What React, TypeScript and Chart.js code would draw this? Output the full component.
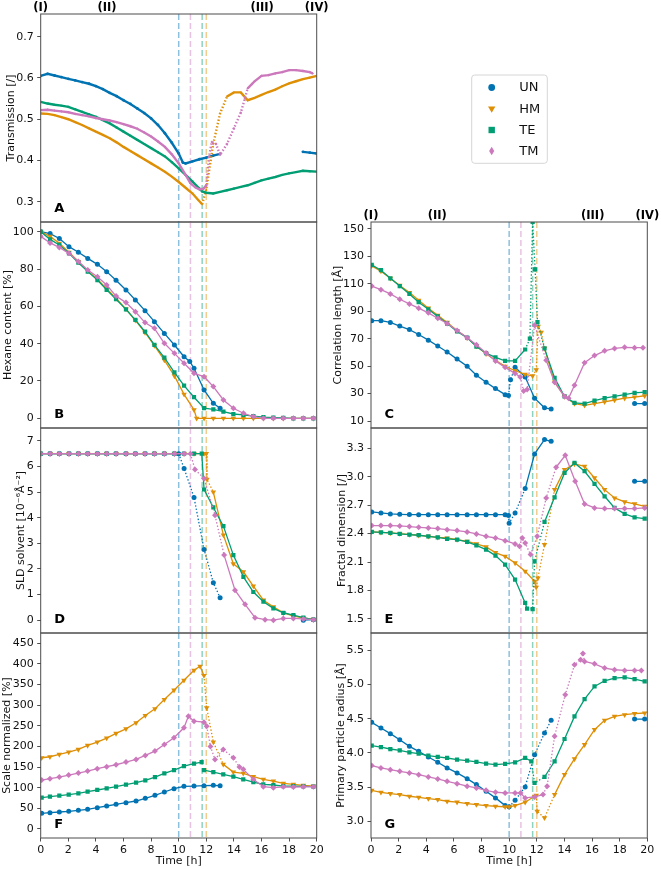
import React, { useEffect, useRef } from "react";
import { Chart, registerables } from "chart.js";

Chart.register(...registerables);

type P = [number, number | null];

const FONT = "'DejaVu Sans', 'Liberation Sans', sans-serif";

const SERIES_NAMES = ["UN", "HM", "TE", "TM"];
const SERIES_COLORS = ["#0173B2", "#DE8F05", "#029E73", "#CC78BC"];
const SERIES_RGB = ["1,115,178", "222,143,5", "2,158,115", "204,120,188"];
const SERIES_MARKERS = ["circle", "triangle", "rect", "rectRot"];
const SERIES_ROTATION = [0, 180, 0, 0];
const SERIES_RADIUS = [2.5, 3.2, 3.0, 3.0];

// switching time of each sample (dashed verticals): UN, HM, TE, TM
const SWITCH_TIMES = [10.0, 12.0, 11.7, 10.85];

const X_TICKS = [0, 2, 4, 6, 8, 10, 12, 14, 16, 18, 20];
const PHASE_LABELS = ["(I)", "(II)", "(III)", "(IV)"];
const PHASE_TIMES = [0, 4.8, 16.05, 20];

const A_TICKS = [0.3, 0.4, 0.5, 0.6, 0.7];
const B_TICKS = [0, 20, 40, 60, 80, 100];
const C_TICKS = [10, 30, 50, 70, 90, 110, 130, 150];
const D_TICKS = [0, 1, 2, 3, 4, 5, 6, 7];
const E_TICKS = [1.5, 1.8, 2.1, 2.4, 2.7, 3.0, 3.3];
const F_TICKS = [0, 50, 100, 150, 200, 250, 300, 350, 400, 450];
const G_TICKS = [3.0, 3.5, 4.0, 4.5, 5.0, 5.5];

// ---------- A: Transmission ----------
const A_UN: P[] = [[0,0.605],[0.5,0.61],[1,0.606],[1.5,0.602],[2,0.598],[2.5,0.594],[3,0.59],[3.5,0.586],[4,0.58],[4.5,0.573],[5,0.564],[5.5,0.556],[6,0.546],[6.5,0.537],[7,0.526],[7.5,0.515],[8,0.502],[8.5,0.486],[9,0.466],[9.5,0.443],[10,0.417],[10.3,0.395],[10.5,0.393],[11,0.398],[11.5,0.403],[12,0.407],[12.5,0.412],[13,0.416],[16,null],[19,0.421],[19.5,0.419],[20,0.417]];
const A_HM: P[] = [[0,0.514],[0.5,0.513],[1,0.51],[1.5,0.505],[2,0.5],[2.5,0.493],[3,0.486],[3.5,0.478],[4,0.47],[4.5,0.462],[5,0.454],[5.5,0.444],[6,0.433],[6.5,0.423],[7,0.413],[7.5,0.403],[8,0.393],[8.5,0.383],[9,0.373],[9.5,0.361],[10,0.348],[10.5,0.334],[11,0.32],[11.4,0.305],[11.7,0.294],[12,0.33],[12.5,0.44],[13,0.514],[13.5,0.555],[14,0.565],[14.5,0.565],[15,0.546],[15.5,0.552],[16,0.559],[16.5,0.566],[17,0.572],[17.5,0.58],[18,0.587],[18.5,0.592],[19,0.597],[19.5,0.601],[20,0.605]];
const A_TE: P[] = [[0,0.542],[0.5,0.538],[1,0.535],[1.5,0.533],[2,0.53],[2.5,0.524],[3,0.518],[3.5,0.512],[4,0.506],[4.5,0.498],[5,0.49],[5.5,0.48],[6,0.47],[6.5,0.46],[7,0.45],[7.5,0.44],[8,0.43],[8.5,0.42],[9,0.41],[9.5,0.396],[10,0.381],[10.5,0.365],[11,0.349],[11.5,0.332],[11.7,0.325],[12,0.322],[12.5,0.32],[13,0.324],[13.5,0.328],[14,0.332],[14.5,0.336],[15,0.34],[15.5,0.346],[16,0.352],[16.5,0.356],[17,0.36],[17.5,0.365],[18,0.369],[18.5,0.372],[19,0.375],[19.5,0.374],[20,0.373]];
const A_TM: P[] = [[0,0.522],[0.5,0.523],[1,0.521],[1.5,0.519],[2,0.517],[2.5,0.513],[3,0.51],[3.5,0.507],[4,0.503],[4.5,0.5],[5,0.497],[5.5,0.493],[6,0.488],[6.5,0.483],[7,0.477],[7.5,0.468],[8,0.458],[8.5,0.446],[9,0.433],[9.5,0.415],[10,0.393],[10.5,0.365],[10.85,0.345],[11.2,0.335],[11.5,0.33],[11.8,0.332],[12,0.34],[12.2,0.41],[12.4,0.445],[12.7,0.44],[13,0.414],[13.5,0.44],[14,0.478],[14.5,0.516],[14.8,0.55],[15,0.575],[15.3,0.585],[15.5,0.592],[16,0.605],[16.5,0.607],[17,0.611],[17.5,0.614],[18,0.619],[18.5,0.619],[19,0.617],[19.5,0.614],[19.7,0.611]];

// ---------- B: Hexane content ----------
const B_UN: P[] = [[0,100],[0.68,99],[1.35,96.4],[2.05,92],[2.73,89],[3.41,85.7],[4.11,82.5],[4.78,78.6],[5.46,74],[6.18,68.8],[6.86,63.4],[7.56,57.7],[8.24,51.8],[8.96,45.5],[9.69,39.3],[10.39,33],[10.8,30.5],[11.11,26.8],[11.84,15.2],[12.51,8],[13.0,5.4]];
const B_HM: P[] = [[0,100],[0.68,97.5],[1.35,93.8],[2.05,89],[2.73,84],[3.41,79],[4.11,74.5],[4.78,69.5],[5.46,64.3],[6.18,58.5],[6.86,52.5],[7.56,46],[8.24,39],[8.96,31.2],[9.69,22.7],[10.39,12.8],[11.11,4.5],[11.3,0],[11.84,0],[12.51,0],[13.24,0],[13.96,0],[14.69,0],[15.41,0],[16.14,0],[16.86,0],[17.58,0],[18.31,0],[19.03,0],[19.76,0]];
const B_TE: P[] = [[0,100],[0.68,95.9],[1.35,92.9],[2.05,88.4],[2.73,83.4],[3.41,78.6],[4.11,74.1],[4.78,68.8],[5.46,63.8],[6.18,58.4],[6.86,52.7],[7.56,46.4],[8.24,39.3],[8.96,32.5],[9.69,24.6],[10.39,17.5],[11.11,11.3],[11.84,5.4],[12.51,4.8],[13.24,3.6],[13.96,2.3],[14.69,1.8],[15.41,1.2],[16.14,0.6],[16.86,0.4],[17.58,0.2],[18.31,0],[19.03,0],[19.76,0]];
const B_TM: P[] = [[0,97.5],[0.68,94],[1.35,91.6],[2.05,88.4],[2.73,84],[3.41,79.5],[4.11,75.9],[4.78,71.4],[5.46,65.5],[6.18,62],[6.86,57.1],[7.56,51.3],[8.24,48.2],[8.96,40.2],[9.69,34.8],[10.39,29.5],[11.11,24.1],[11.84,22.3],[12.51,17],[13.24,9.8],[13.96,5.4],[14.69,2.7],[15.41,0.9],[16.14,0],[16.86,0],[17.58,0],[18.31,0],[19.03,0],[19.76,0]];

// ---------- D: SLD solvent ----------
const D_UN: P[] = [[0,6.5],[0.68,6.5],[1.35,6.5],[2.05,6.5],[2.73,6.5],[3.41,6.5],[4.11,6.5],[4.78,6.5],[5.46,6.5],[6.18,6.5],[6.86,6.5],[7.56,6.5],[8.24,6.5],[8.96,6.5],[9.69,6.5],[10.0,6.5],[10.39,5.92],[11.11,4.79],[11.84,2.76],[12.51,1.46],[13.0,0.88],[16,null],[19.03,0],[19.76,0.02]];
const D_HM: P[] = [[0,6.5],[0.68,6.5],[1.35,6.5],[2.05,6.5],[2.73,6.5],[3.41,6.5],[4.11,6.5],[4.78,6.5],[5.46,6.5],[6.18,6.5],[6.86,6.5],[7.56,6.5],[8.24,6.5],[8.96,6.5],[9.69,6.5],[10.39,6.5],[11.11,6.5],[11.84,6.5],[12.0,6.5],[12.05,5.5],[12.51,5.0],[13.24,3.32],[13.96,2.2],[14.69,1.89],[15.41,1.33],[16.14,0.78],[16.86,0.52],[17.58,0.29],[18.31,0.16],[19.03,0.09],[19.76,0.03]];
const D_TE: P[] = [[0,6.5],[0.68,6.5],[1.35,6.5],[2.05,6.5],[2.73,6.5],[3.41,6.5],[4.11,6.5],[4.78,6.5],[5.46,6.5],[6.18,6.5],[6.86,6.5],[7.56,6.5],[8.24,6.5],[8.96,6.5],[9.69,6.5],[10.39,6.5],[11.11,6.5],[11.67,6.5],[11.84,5.1],[12.51,4.4],[13.24,3.67],[13.96,2.54],[14.69,1.69],[15.41,1.1],[16.14,0.72],[16.86,0.46],[17.58,0.29],[18.31,0.2],[19.03,0.1],[19.76,0.02]];
const D_TM: P[] = [[0,6.5],[0.68,6.5],[1.35,6.5],[2.05,6.5],[2.73,6.5],[3.41,6.5],[4.11,6.5],[4.78,6.5],[5.46,6.5],[6.18,6.5],[6.86,6.5],[7.56,6.5],[8.24,6.5],[8.96,6.5],[9.69,6.5],[10.39,6.5],[10.85,6.5],[11.18,5.88],[11.84,5.53],[12.63,4.1],[13.29,2.54],[14.08,1.17],[14.81,0.62],[15.53,0.1],[16.26,0.02],[16.86,0],[17.58,0.07],[18.31,0.07],[19.03,0.05],[19.76,0.02]];

// ---------- F: Scale normalized ----------
const F_UN: P[] = [[0.07,37.9],[0.67,39.5],[1.35,41],[2.03,42.7],[2.73,45],[3.4,47.6],[4.1,51.6],[4.78,55.6],[5.46,59.7],[6.18,63.7],[6.91,67.7],[7.58,74.2],[8.28,81.5],[8.96,89.5],[9.66,97.6],[10.38,103.2],[11.11,104],[11.83,104.8],[12.51,105.6],[13.0,104.8]];
const F_HM: P[] = [[0.07,172.6],[0.67,175],[1.35,180.6],[2.03,186.3],[2.73,192.7],[3.4,202.4],[4.1,210.5],[4.78,220.2],[5.46,231.5],[6.18,242.7],[6.91,257.3],[7.58,275],[8.28,291.1],[8.96,313.7],[9.66,336.3],[10.38,360.5],[11.11,384.7],[11.55,394.4],[11.83,371.8],[12.03,293.5],[12.51,210.5],[13.23,156.5],[13.96,137.9],[14.68,134.7],[15.41,126.6],[16.13,120.2],[16.86,116.1],[17.58,110.5],[18.31,108.1],[19.03,105.6],[19.76,104]];
const F_TE: P[] = [[0.07,75.8],[0.67,78.2],[1.35,80.6],[2.03,83.1],[2.73,86.3],[3.4,90.3],[4.1,94.4],[4.78,98.4],[5.46,102.4],[6.18,107.3],[6.91,112.1],[7.58,117.7],[8.28,125.8],[8.96,134.7],[9.66,142.7],[10.38,152.4],[11.11,158.1],[11.66,162],[11.75,null],[11.83,142.7],[12.51,137.9],[13.23,132.3],[13.96,126.6],[14.68,120.2],[15.41,113.7],[16.13,108.1],[16.86,106.5],[17.58,104],[18.31,104],[19.03,103.2],[19.76,102.4]];
const F_TM: P[] = [[0.07,118.5],[0.67,121.8],[1.35,125.8],[2.03,130.6],[2.73,135.5],[3.4,140.3],[4.1,146],[4.78,150.8],[5.46,155.6],[6.18,162.1],[6.91,168.5],[7.58,178.2],[8.28,188.7],[8.96,204.8],[9.66,221],[10.38,245.2],[10.7,273],[11.11,261.3],[11.83,258.9],[12.03,249],[12.3,200],[12.63,168.5],[13.23,192.7],[13.96,172.6],[14.4,150],[14.68,144.4],[15.41,120.2],[16.13,102.4],[16.86,100],[17.58,102],[18.31,101.5],[19.03,102],[19.76,102.4]];

// ---------- C: Correlation length ----------
const C_UN: P[] = [[0.05,83.1],[0.72,83.1],[1.4,81.8],[2.08,79.2],[2.78,76.6],[3.45,73],[4.15,68.9],[4.83,64.7],[5.51,60.3],[6.23,55.1],[6.96,49.9],[7.63,43.4],[8.33,38.3],[9.01,33.6],[9.71,29.2],[9.95,28.5],[10.1,40],[10.43,49.1],[11.16,42.1],[11.84,26.6],[12.56,19.6],[13.04,18.8],[16,null],[19.08,22.7],[19.81,22.7]];
const C_HM: P[] = [[0.05,123],[0.72,119.2],[1.4,114],[2.08,108.8],[2.78,103.6],[3.45,97.9],[4.15,92.2],[4.83,87],[5.51,81.8],[6.23,75.9],[6.96,70.7],[7.63,64.7],[8.33,59],[9.01,54.3],[9.71,49.9],[10.43,46.6],[11.16,44],[11.7,42.9],[11.96,47.3],[12.1,79],[12.32,74.6],[12.56,62.9],[13.29,38.3],[14.01,27.9],[14.73,22.7],[15.46,21.4],[16.18,22.7],[16.91,24],[17.63,25.3],[18.36,26.6],[19.08,27.4],[19.81,28.4]];
const C_TE: P[] = [[0.05,123.8],[0.72,119.9],[1.4,114],[2.08,108.3],[2.78,102.6],[3.45,96.6],[4.15,91.4],[4.83,86.2],[5.51,81],[6.23,75.3],[6.96,70.7],[7.63,64.2],[8.33,59.5],[9.01,56.4],[9.71,53.8],[10.43,53.8],[11.16,62.1],[11.5,70],[11.7,155],[11.88,120.4],[12.05,82],[12.56,62.9],[13.29,41.4],[14.01,27.9],[14.73,23.2],[15.46,22.7],[16.18,24.8],[16.91,26.6],[17.63,27.9],[18.36,29.2],[19.08,30.5],[19.81,31]];
const C_TM: P[] = [[0.05,108.3],[0.72,105.7],[1.4,102.6],[2.08,98.7],[2.78,95.3],[3.45,92.2],[4.15,88.8],[4.83,84.9],[5.51,81],[6.23,75.9],[6.96,70.7],[7.63,65.5],[8.33,59.5],[9.01,53.8],[9.71,49.1],[10.43,44.7],[10.8,42.1],[11.05,31.8],[11.3,33],[11.84,79.7],[12.68,54.3],[13.29,38.3],[14.01,27.9],[14.3,26.5],[14.73,36],[15.46,52.5],[16.18,57.7],[16.91,61.1],[17.63,62.9],[18.36,63.7],[19.08,63.4],[19.69,63.4]];

// ---------- E: Fractal dimension ----------
const E_UN: P[] = [[0.05,2.629],[0.72,2.618],[1.4,2.608],[2.08,2.604],[2.78,2.601],[3.45,2.6],[4.15,2.6],[4.83,2.6],[5.51,2.6],[6.23,2.6],[6.96,2.6],[7.63,2.6],[8.33,2.6],[9.01,2.6],[9.71,2.6],[9.95,2.59],[10.0,2.51],[10.43,2.618],[11.16,2.875],[11.84,3.24],[12.56,3.392],[13.04,3.374],[16,null],[19.08,2.952],[19.81,2.952]];
const E_HM: P[] = [[0.05,2.418],[0.72,2.414],[1.4,2.407],[2.08,2.4],[2.78,2.39],[3.45,2.383],[4.15,2.372],[4.83,2.361],[5.51,2.354],[6.23,2.337],[6.96,2.319],[7.63,2.291],[8.33,2.26],[9.01,2.2],[9.71,2.16],[10.43,2.091],[11.16,2.003],[11.84,1.897],[11.96,1.834],[12.08,1.932],[12.56,2.284],[13.29,2.864],[14.01,3.075],[14.73,3.135],[15.46,3.11],[16.18,2.987],[16.91,2.864],[17.63,2.776],[18.36,2.734],[19.08,2.713],[19.81,2.688]];
const E_TE: P[] = [[0.05,2.418],[0.72,2.414],[1.4,2.407],[2.08,2.397],[2.78,2.39],[3.45,2.383],[4.15,2.372],[4.83,2.361],[5.51,2.344],[6.23,2.337],[6.96,2.312],[7.63,2.277],[8.33,2.231],[9.01,2.168],[9.71,2.073],[10.43,1.915],[11.16,1.669],[11.3,1.61],[11.7,1.605],[11.84,2.108],[12.56,2.523],[13.29,2.783],[14.01,3.04],[14.73,3.146],[15.46,3.058],[16.18,2.924],[16.91,2.794],[17.63,2.671],[18.36,2.608],[19.08,2.572],[19.81,2.558]];
const E_TM: P[] = [[0.05,2.485],[0.72,2.485],[1.4,2.485],[2.08,2.481],[2.78,2.474],[3.45,2.467],[4.15,2.46],[4.83,2.453],[5.51,2.442],[6.23,2.432],[6.96,2.418],[7.63,2.397],[8.33,2.372],[9.01,2.354],[9.71,2.326],[10.43,2.291],[10.75,2.267],[10.95,2.354],[11.16,2.3],[11.55,2.179],[12.03,2.372],[12.68,2.776],[13.4,3.1],[14.06,3.226],[14.78,2.952],[15.46,2.713],[16.18,2.671],[16.91,2.664],[17.63,2.664],[18.36,2.664],[19.08,2.664],[19.81,2.671]];

// ---------- G: Primary particle radius ----------
const G_UN: P[] = [[0.05,4.447],[0.72,4.364],[1.4,4.282],[2.08,4.194],[2.78,4.097],[3.45,4.024],[4.15,3.942],[4.83,3.864],[5.51,3.782],[6.23,3.709],[6.96,3.626],[7.63,3.539],[8.33,3.442],[9.01,3.345],[9.71,3.233],[10.0,3.214],[10.43,3.311],[11.16,3.505],[11.84,3.976],[12.56,4.291],[13.04,4.476],[16,null],[19.08,4.495],[19.81,4.495]];
const G_HM: P[] = [[0.05,3.456],[0.72,3.427],[1.4,3.408],[2.08,3.393],[2.78,3.369],[3.45,3.354],[4.15,3.335],[4.83,3.32],[5.51,3.296],[6.23,3.282],[6.96,3.262],[7.63,3.248],[8.33,3.233],[9.01,3.223],[9.71,3.214],[10.0,3.214],[10.43,3.233],[11.16,3.282],[11.84,3.369],[11.96,3.383],[12.03,3.15],[12.56,3.053],[13.29,3.393],[14.01,3.684],[14.73,3.913],[15.46,4.121],[16.18,4.34],[16.91,4.476],[17.63,4.534],[18.36,4.558],[19.08,4.573],[19.81,4.583]];
const G_TE: P[] = [[0.05,4.107],[0.72,4.087],[1.4,4.058],[2.08,4.039],[2.78,4.01],[3.45,3.99],[4.15,3.961],[4.83,3.942],[5.51,3.927],[6.23,3.903],[6.96,3.888],[7.63,3.869],[8.33,3.845],[9.01,3.83],[9.71,3.84],[10.43,3.864],[11.16,3.927],[11.6,3.879],[11.84,3.563],[12.56,3.65],[13.29,3.879],[14.01,4.204],[14.73,4.534],[15.46,4.786],[16.18,4.971],[16.91,5.053],[17.63,5.092],[18.36,5.102],[19.08,5.078],[19.81,5.044]];
const G_TM: P[] = [[0.05,3.816],[0.72,3.782],[1.4,3.757],[2.08,3.733],[2.78,3.709],[3.45,3.684],[4.15,3.65],[4.83,3.621],[5.51,3.587],[6.23,3.553],[6.96,3.515],[7.63,3.49],[8.33,3.456],[9.01,3.427],[9.71,3.417],[10.43,3.417],[10.82,3.417],[11.16,3.345],[11.84,3.359],[12.45,3.393],[12.75,3.515],[13.29,4.243],[14.06,4.85],[14.73,5.286],[15.17,5.36],[15.34,5.45],[15.46,5.335],[16.18,5.301],[16.91,5.238],[17.63,5.214],[18.36,5.204],[19.08,5.204],[19.57,5.204]];

type Range = [number, number] | null;

interface Panel {
  letter: string;
  col: number;
  top: number;
  bottom: number;
  yMin: number;
  yMax: number;
  ticks: number[];
  dec: number;
  title: string;
  titlePad: number;
  xAxis: boolean;
  phases: boolean;
  legend: boolean;
  dense: boolean;
  series: P[][];
  dotted: Range[];
}

const COLS = [
  { left: 0, width: 330, axisW: 40.7, padRight: 13.3 },
  { left: 330, width: 331, axisW: 41, padRight: 13.7 },
];
const FIG_H = 869;
const X_AXIS_H = 31;

const PANELS: Panel[] = [
  { letter: "A", col: 0, top: 14, bottom: 222, yMin: 0.251, yMax: 0.755, ticks: A_TICKS, dec: 1, title: "Transmission [/]", titlePad: 4.4, xAxis: false, phases: true, legend: false, dense: true, series: [A_UN, A_HM, A_TE, A_TM], dotted: [null, [11.6, 13.6], null, [11.9, 15.1]] },
  { letter: "B", col: 0, top: 222, bottom: 428, yMin: -5.2, yMax: 105.2, ticks: B_TICKS, dec: 0, title: "Hexane content [%]", titlePad: 1.7, xAxis: false, phases: false, legend: false, dense: false, series: [B_UN, B_HM, B_TE, B_TM], dotted: [null, null, null, null] },
  { letter: "D", col: 0, top: 428, bottom: 633, yMin: -0.5, yMax: 7.5, ticks: D_TICKS, dec: 0, title: "SLD solvent [10⁻⁶Å⁻²]", titlePad: 15, xAxis: false, phases: false, legend: false, dense: false, series: [D_UN, D_HM, D_TE, D_TM], dotted: [[9.9, 13.1], [11.9, 12.6], null, [10.8, 13.3]] },
  { letter: "F", col: 0, top: 633, bottom: 838, yMin: -22, yMax: 475, ticks: F_TICKS, dec: 0, title: "Scale normalized [%]", titlePad: 0.2, xAxis: true, phases: false, legend: false, dense: false, series: [F_UN, F_HM, F_TE, F_TM], dotted: [null, [11.8, 13.3], null, [11.9, 14.7]] },
  { letter: "C", col: 1, top: 222, bottom: 428, yMin: 4.9, yMax: 155, ticks: C_TICKS, dec: 0, title: "Correlation length [Å]", titlePad: 1.7, xAxis: false, phases: true, legend: true, dense: false, series: [C_UN, C_HM, C_TE, C_TM], dotted: [[9.9, 10.5], [11.6, 12.6], [11.1, 12.6], [10.7, 12.7]] },
  { letter: "E", col: 1, top: 428, bottom: 633, yMin: 1.352, yMax: 3.514, ticks: E_TICKS, dec: 1, title: "Fractal dimension [/]", titlePad: 5.1, xAxis: false, phases: false, legend: false, dense: false, series: [E_UN, E_HM, E_TE, E_TM], dotted: [[9.9, 11.2], [11.9, 13.3], [11.2, 12.6], [10.7, 13.5]] },
  { letter: "G", col: 1, top: 633, bottom: 838, yMin: 2.76, yMax: 5.75, ticks: G_TICKS, dec: 1, title: "Primary particle radius [Å]", titlePad: 4.4, xAxis: true, phases: false, legend: false, dense: false, series: [G_UN, G_HM, G_TE, G_TM], dotted: [[9.9, 13.1], [11.9, 13.3], [11.5, 12.6], [12.4, 15.5]] },
];

function drawMarker(ctx: CanvasRenderingContext2D, kind: number, x: number, y: number, r: number) {
  ctx.beginPath();
  if (kind === 0) {
    ctx.arc(x, y, r, 0, Math.PI * 2);
  } else if (kind === 1) {
    ctx.moveTo(x - r * 1.15, y - r * 0.75);
    ctx.lineTo(x + r * 1.15, y - r * 0.75);
    ctx.lineTo(x, y + r * 1.2);
    ctx.closePath();
  } else if (kind === 2) {
    ctx.rect(x - r, y - r, r * 2, r * 2);
  } else {
    ctx.moveTo(x, y - r * 1.3);
    ctx.lineTo(x + r * 0.8, y);
    ctx.lineTo(x, y + r * 1.3);
    ctx.lineTo(x - r * 0.8, y);
    ctx.closePath();
  }
  ctx.fill();
}

const figurePlugin = {
  id: "figure",
  beforeDatasetsDraw(chart: any) {
    const { ctx, chartArea: a, scales } = chart;
    const xs = scales.x;
    ctx.save();
    ctx.lineWidth = 1.5;
    ctx.setLineDash([6, 3]);
    SWITCH_TIMES.forEach((t, i) => {
      const px = xs.getPixelForValue(t);
      ctx.strokeStyle = `rgba(${SERIES_RGB[i]},0.45)`;
      ctx.beginPath();
      ctx.moveTo(px, a.top);
      ctx.lineTo(px, a.bottom);
      ctx.stroke();
    });
    ctx.restore();
  },
  afterDraw(chart: any, _args: any, opts: any) {
    const { ctx, chartArea: a, scales } = chart;
    const xs = scales.x;
    ctx.save();
    ctx.strokeStyle = "#4d4d4d";
    ctx.lineWidth = 1;
    ctx.strokeRect(a.left, a.top, a.right - a.left, a.bottom - a.top);
    ctx.fillStyle = "#000";
    ctx.font = `bold 13px ${FONT}`;
    ctx.textAlign = "left";
    ctx.textBaseline = "alphabetic";
    ctx.fillText(opts.letter, a.left + 13.5, a.bottom - 10);
    if (opts.phases) {
      ctx.font = `bold 11.5px ${FONT}`;
      ctx.textAlign = "center";
      PHASE_LABELS.forEach((lab, i) => {
        ctx.fillText(lab, xs.getPixelForValue(PHASE_TIMES[i]), a.top - 3);
      });
    }
    if (opts.legend) {
      const bx = 141.7, by = 75, bw = 75.6, bh = 88.3;
      ctx.fillStyle = "rgba(255,255,255,0.85)";
      ctx.strokeStyle = "#d6d6d6";
      ctx.lineWidth = 1;
      ctx.beginPath();
      if ((ctx as any).roundRect) (ctx as any).roundRect(bx, by, bw, bh, 3);
      else ctx.rect(bx, by, bw, bh);
      ctx.fill();
      ctx.stroke();
      const rows = [87.5, 109, 130, 151];
      ctx.font = `13px ${FONT}`;
      ctx.textAlign = "left";
      ctx.textBaseline = "middle";
      SERIES_NAMES.forEach((name, i) => {
        ctx.fillStyle = SERIES_COLORS[i];
        drawMarker(ctx, i, bx + 20, rows[i], i === 0 ? 3.4 : 3.2);
        ctx.fillStyle = "#111";
        ctx.fillText(name, bx + 47.6, rows[i] + 0.5);
      });
    }
    ctx.restore();
  },
};

function buildConfig(p: Panel): any {
  const g = COLS[p.col];
  const tickFont = { family: FONT, size: 11 };
  const datasets = p.series.map((pts, i) => {
    const dot = p.dotted[i];
    return {
      label: SERIES_NAMES[i],
      data: pts.map(([x, y]) => ({ x, y })),
      borderColor: SERIES_COLORS[i],
      backgroundColor: SERIES_COLORS[i],
      borderWidth: p.dense ? 2.4 : 1.3,
      pointStyle: SERIES_MARKERS[i],
      pointRotation: SERIES_ROTATION[i],
      pointRadius: p.dense ? 1.4 : SERIES_RADIUS[i],
      pointBorderWidth: 0,
      pointHoverRadius: 0,
      spanGaps: false,
      tension: 0,
      order: 3 - i,
      segment: {
        borderDash: (ctx: any) => {
          if (!dot) return undefined;
          const x0 = ctx.p0.parsed.x;
          const x1 = ctx.p1.parsed.x;
          return x0 >= dot[0] && x1 <= dot[1] ? [1.4, 2] : undefined;
        },
      },
    };
  });
  return {
    type: "line",
    data: { datasets },
    options: {
      animation: false,
      responsive: false,
      events: [],
      layout: {
        padding: {
          left: 0,
          right: g.padRight,
          top: p.top,
          bottom: p.xAxis ? FIG_H - p.bottom - X_AXIS_H : FIG_H - p.bottom,
        },
      },
      plugins: {
        legend: { display: false },
        tooltip: { enabled: false },
        figure: { letter: p.letter, phases: p.phases, legend: p.legend },
      },
      scales: {
        x: {
          type: "linear",
          min: 0,
          max: 20,
          display: p.xAxis,
          afterBuildTicks: (s: any) => {
            s.ticks = X_TICKS.map((v) => ({ value: v }));
          },
          afterFit: (s: any) => {
            s.height = p.xAxis ? X_AXIS_H : 0;
          },
          ticks: {
            font: tickFont,
            color: "#111",
            padding: 2,
            maxRotation: 0,
            autoSkip: false,
            callback: (v: any) => String(v),
          },
          grid: { drawOnChartArea: false, drawTicks: true, tickLength: 3.5, color: "#222", lineWidth: 0.8 },
          border: { display: false },
          title: { display: true, text: "Time [h]", font: tickFont, color: "#111", padding: { top: 0, bottom: 1.7 } },
        },
        y: {
          type: "linear",
          min: p.yMin,
          max: p.yMax,
          afterBuildTicks: (s: any) => {
            s.ticks = p.ticks.map((v) => ({ value: v }));
          },
          afterFit: (s: any) => {
            s.width = g.axisW;
          },
          ticks: {
            font: tickFont,
            color: "#111",
            padding: 3.5,
            autoSkip: false,
            callback: (v: any) => Number(v).toFixed(p.dec),
          },
          grid: { drawOnChartArea: false, drawTicks: true, tickLength: 3.5, color: "#222", lineWidth: 0.8 },
          border: { display: false },
          title: { display: true, text: p.title, font: tickFont, color: "#111", padding: { top: p.titlePad, bottom: 0 } },
        },
      },
    },
    plugins: [figurePlugin],
  };
}

function PanelChart({ panel }: { panel: Panel }) {
  const ref = useRef<HTMLCanvasElement>(null);
  useEffect(() => {
    const cv = ref.current;
    if (!cv) return;
    const chart = new Chart(cv, buildConfig(panel));
    return () => chart.destroy();
  }, [panel]);
  const g = COLS[panel.col];
  return (
    <canvas
      ref={ref}
      width={g.width}
      height={FIG_H}
      style={{ position: "absolute", left: g.left, top: 0, width: g.width, height: FIG_H }}
    />
  );
}

export default function App() {
  return (
    <div style={{ position: "absolute", left: 0, top: 0, width: 661, height: FIG_H, background: "#fff", overflow: "hidden" }}>
      {PANELS.map((p) => (
        <PanelChart key={p.letter} panel={p} />
      ))}
    </div>
  );
}
